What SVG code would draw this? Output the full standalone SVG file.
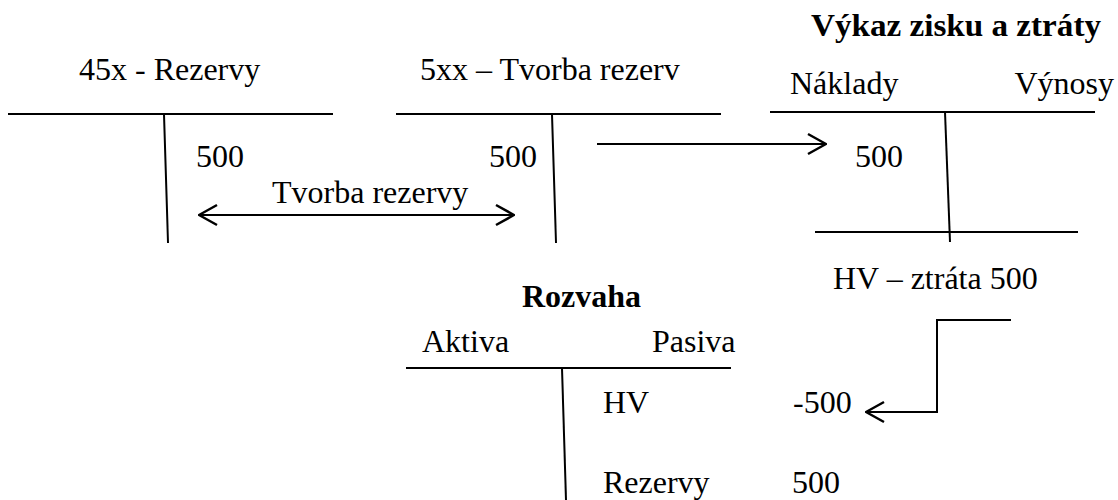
<svg xmlns="http://www.w3.org/2000/svg" width="1118" height="500" viewBox="0 0 1118 500">
<style>
text{font-size:32px;fill:#000}
.b{font-weight:bold}
.ln{stroke:#000;stroke-width:2;fill:none}
</style>
<defs>
<marker id="ah" viewBox="0 0 20 24" refX="19" refY="12" markerWidth="20" markerHeight="24" markerUnits="userSpaceOnUse" orient="auto-start-reverse">
<path d="M1 2 L19 12 L1 22" fill="none" stroke="#000" stroke-width="2.5"/>
</marker>
</defs>
<rect width="1118" height="500" fill="#fff"/>
<g font-family="Liberation Serif, Times New Roman, serif">
<g id="acc-rezervy">
<text x="79" y="80">45x - Rezervy</text>
<line class="ln" x1="8" y1="114" x2="333" y2="114"/>
<line class="ln" x1="164" y1="114" x2="168" y2="243"/>
<text x="196" y="167">500</text>
</g>
<g id="acc-tvorba">
<text x="420" y="80">5xx – Tvorba rezerv</text>
<line class="ln" x1="396" y1="114" x2="721" y2="114"/>
<line class="ln" x1="552" y1="114" x2="556" y2="243"/>
<text x="489" y="167">500</text>
</g>
<g id="vzz">
<text class="b" x="811" y="36" textLength="290" lengthAdjust="spacingAndGlyphs">Výkaz zisku a ztráty</text>
<text x="790" y="94">Náklady</text>
<text x="1114" y="94" text-anchor="end">Výnosy</text>
<line class="ln" x1="770" y1="112" x2="1095" y2="112"/>
<line class="ln" x1="945" y1="112" x2="950" y2="242"/>
<line class="ln" x1="815" y1="232" x2="1078" y2="232"/>
<text x="855" y="167">500</text>
<text x="833" y="289">HV – ztráta 500</text>
</g>
<g id="rozvaha">
<text class="b" x="522" y="307">Rozvaha</text>
<text x="422" y="352">Aktiva</text>
<text x="652" y="352">Pasiva</text>
<line class="ln" x1="406" y1="368" x2="731" y2="368"/>
<line class="ln" x1="562" y1="368" x2="566" y2="500"/>
<text x="603" y="413">HV</text>
<text x="793" y="413">-500</text>
<text x="603" y="493">Rezervy</text>
<text x="792" y="493">500</text>
</g>
<g id="connectors">
<line class="ln" x1="199" y1="215" x2="514" y2="215" marker-start="url(#ah)" marker-end="url(#ah)"/>
<text x="272" y="203">Tvorba rezervy</text>
<line class="ln" x1="597" y1="144" x2="826" y2="144" marker-end="url(#ah)"/>
<polyline class="ln" points="1011,320 937,320 937,412 866,412" marker-end="url(#ah)"/>
</g>
</g>
</svg>
